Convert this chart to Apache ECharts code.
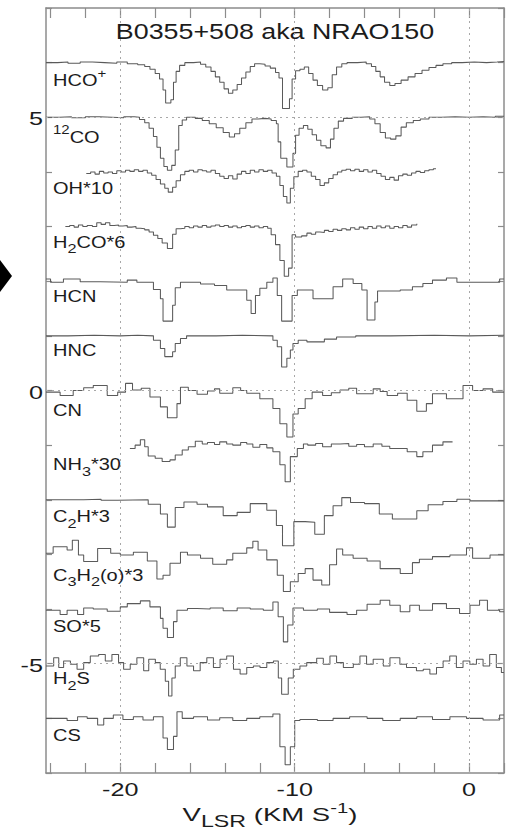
<!DOCTYPE html>
<html><head><meta charset="utf-8">
<style>html,body{margin:0;padding:0;background:#fff}#c{width:511px;height:833px}</style>
<script src="https://cdn.jsdelivr.net/npm/echarts@6/dist/echarts.min.js"></script>
</head><body><div id="c"></div>
<script>
// ---------------- data ----------------
const title = 'B0355+508 aka NRAO150';
const species = ['HCO+', '12CO', 'OH*10', 'H2CO*6', 'HCN', 'HNC', 'CN', 'NH3*30', 'C2H*3', 'C3H2(o)*3', 'SO*5', 'H2S', 'CS'];
const offsets = [6, 5, 4, 3, 2, 1, 0, -1, -2, -3, -4, -5, -6];
const xTickVals = [-24, -22, -20, -18, -16, -14, -12, -10, -8, -6, -4, -2, 0, 2];
const xLabelVals = [-20, -10, 0];
const yLabelVals = [5, 0, -5];
const gridXVals = [-20, -10, 0];
const gridYVals = [5, 0, -5];

// each pair: [velocity where the channel level starts, deviation from the spectrum baseline]
const HCOp = [[-24.26,0.00],[-23.6,0.01],[-23.0,-0.01],[-22.3,0.01],[-21.6,0.00],[-20.9,-0.01],[-20.2,0.01],[-19.6,-0.02],[-19.0,-0.04],[-18.6,-0.07],[-18.3,-0.12],[-18.0,-0.20],[-17.75,-0.30],[-17.55,-0.50],[-17.4,-0.74],[-17.1,-0.68],[-16.95,-0.36],[-16.8,-0.16],[-16.6,-0.05],[-16.3,0.00],[-15.8,0.01],[-15.4,-0.03],[-15.1,-0.08],[-14.8,-0.16],[-14.55,-0.26],[-14.3,-0.36],[-14.05,-0.48],[-13.8,-0.56],[-13.55,-0.50],[-13.3,-0.40],[-13.05,-0.28],[-12.8,-0.17],[-12.55,-0.07],[-12.3,-0.02],[-12.0,-0.03],[-11.7,-0.06],[-11.4,-0.10],[-11.1,-0.18],[-10.9,-0.28],[-10.7,-0.84],[-10.3,-0.66],[-10.15,-0.30],[-9.95,-0.15],[-9.7,-0.12],[-9.45,-0.08],[-9.2,-0.20],[-8.95,-0.32],[-8.7,-0.42],[-8.4,-0.50],[-8.1,-0.46],[-7.85,-0.22],[-7.6,-0.08],[-7.3,-0.02],[-7.0,0.00],[-6.4,0.01],[-5.9,-0.02],[-5.6,-0.07],[-5.35,-0.16],[-5.1,-0.26],[-4.85,-0.36],[-4.55,-0.42],[-4.25,-0.38],[-3.9,-0.32],[-3.5,-0.26],[-3.1,-0.20],[-2.7,-0.14],[-2.3,-0.09],[-1.9,-0.05],[-1.5,-0.02],[-1.0,0.00],[-0.4,0.01],[0.3,0.00],[1.0,0.01],[1.6,0.02],[2.0,0.02]];
const CO12p = [[-24.26,0.00],[-23.5,0.01],[-22.8,-0.01],[-22.0,0.01],[-21.2,0.00],[-20.5,-0.01],[-19.8,0.01],[-19.2,0.00],[-18.9,-0.04],[-18.6,-0.10],[-18.35,-0.20],[-18.1,-0.35],[-17.9,-0.55],[-17.7,-0.75],[-17.5,-0.90],[-17.3,-0.97],[-17.05,-0.88],[-16.85,-0.60],[-16.65,-0.15],[-16.45,-0.05],[-16.2,0.00],[-15.7,-0.02],[-15.3,-0.06],[-14.9,-0.12],[-14.5,-0.19],[-14.1,-0.28],[-13.75,-0.36],[-13.45,-0.30],[-13.15,-0.20],[-12.8,-0.10],[-12.45,-0.03],[-12.1,-0.02],[-11.7,-0.03],[-11.35,-0.06],[-11.05,-0.12],[-10.95,-0.45],[-10.8,-0.75],[-10.45,-0.91],[-10.1,-0.66],[-9.95,-0.33],[-9.75,-0.20],[-9.5,-0.15],[-9.25,-0.22],[-9.0,-0.32],[-8.75,-0.42],[-8.5,-0.52],[-8.2,-0.56],[-7.95,-0.40],[-7.75,-0.20],[-7.5,-0.07],[-7.2,-0.02],[-6.7,0.00],[-6.2,0.01],[-5.7,-0.03],[-5.4,-0.12],[-5.1,-0.28],[-4.8,-0.38],[-4.5,-0.40],[-4.2,-0.34],[-3.9,-0.18],[-3.6,-0.10],[-3.2,-0.06],[-2.8,-0.03],[-2.3,0.00],[-1.6,0.01],[-0.8,0.00],[0.0,0.01],[0.8,0.00],[1.5,0.02],[2.0,0.02]];
const OHp = [[-21.95,-0.03],[-21.7,0.00],[-21.45,-0.04],[-21.2,0.01],[-20.95,-0.02],[-20.7,0.00],[-20.45,-0.03],[-20.2,0.02],[-19.95,0.00],[-19.7,0.03],[-19.45,0.01],[-19.2,0.04],[-18.95,0.01],[-18.7,0.03],[-18.45,-0.02],[-18.2,-0.06],[-17.95,-0.14],[-17.7,-0.22],[-17.45,-0.30],[-17.25,-0.37],[-17.0,-0.28],[-16.8,-0.16],[-16.55,-0.05],[-16.3,0.01],[-16.05,0.03],[-15.8,0.00],[-15.55,0.04],[-15.3,0.02],[-15.05,0.00],[-14.8,0.03],[-14.55,-0.03],[-14.3,-0.08],[-14.05,-0.12],[-13.8,-0.07],[-13.55,-0.13],[-13.3,-0.04],[-13.05,0.01],[-12.8,-0.03],[-12.55,0.03],[-12.3,0.00],[-12.05,0.04],[-11.8,0.01],[-11.55,0.03],[-11.3,-0.02],[-11.05,-0.08],[-10.85,-0.25],[-10.65,-0.45],[-10.45,-0.57],[-10.25,-0.30],[-10.05,-0.09],[-9.8,0.01],[-9.55,0.03],[-9.3,0.00],[-9.05,-0.08],[-8.8,-0.14],[-8.55,-0.25],[-8.3,-0.20],[-8.05,-0.12],[-7.8,-0.05],[-7.55,0.00],[-7.3,0.03],[-7.05,0.05],[-6.8,0.02],[-6.55,0.05],[-6.3,0.01],[-6.05,0.04],[-5.8,0.00],[-5.55,0.03],[-5.3,-0.03],[-5.05,-0.08],[-4.8,-0.14],[-4.55,-0.10],[-4.3,-0.15],[-4.05,-0.07],[-3.8,-0.04],[-3.55,-0.06],[-3.3,-0.02],[-3.05,0.01],[-2.8,-0.01],[-2.55,0.02],[-2.3,0.04],[-2.05,0.06],[-1.9,0.06]];
const H2COp = [[-23.15,0.00],[-22.9,0.02],[-22.65,-0.01],[-22.4,0.03],[-22.15,0.00],[-21.9,0.02],[-21.6,0.00],[-21.35,0.07],[-21.1,0.04],[-20.85,0.07],[-20.6,0.02],[-20.35,0.03],[-20.1,0.01],[-19.85,0.02],[-19.6,-0.01],[-19.35,0.00],[-19.1,-0.03],[-18.85,-0.04],[-18.6,-0.06],[-18.35,-0.10],[-18.1,-0.16],[-17.85,-0.22],[-17.6,-0.30],[-17.3,-0.40],[-17.0,-0.14],[-16.8,-0.04],[-16.55,-0.03],[-16.3,0.00],[-16.05,-0.02],[-15.8,0.01],[-15.55,-0.01],[-15.3,0.02],[-15.05,-0.01],[-14.8,0.01],[-14.55,0.03],[-14.3,0.00],[-14.05,0.02],[-13.8,-0.01],[-13.55,0.01],[-13.3,-0.02],[-13.05,0.00],[-12.8,0.02],[-12.55,-0.01],[-12.3,0.01],[-12.05,-0.02],[-11.8,0.00],[-11.55,-0.03],[-11.35,-0.15],[-11.1,-0.33],[-10.85,-0.62],[-10.6,-0.91],[-10.35,-0.76],[-10.15,-0.15],[-9.95,-0.19],[-9.6,-0.17],[-9.3,-0.12],[-9.05,-0.14],[-8.8,-0.10],[-8.55,-0.11],[-8.3,-0.07],[-8.05,-0.09],[-7.8,-0.05],[-7.55,-0.07],[-7.3,-0.04],[-7.05,-0.06],[-6.8,-0.02],[-6.55,-0.05],[-6.3,-0.01],[-6.05,-0.04],[-5.8,0.00],[-5.55,-0.03],[-5.3,0.01],[-5.05,-0.02],[-4.8,0.01],[-4.55,-0.03],[-4.3,0.00],[-4.05,-0.02],[-3.8,0.02],[-3.55,-0.01],[-3.3,0.03],[-3.0,0.05]];
const HCNp = [[-24.26,0.04],[-24.0,-0.02],[-23.26,0.04],[-22.3,-0.01],[-21.15,-0.02],[-19.6,0.02],[-19.05,-0.02],[-18.1,-0.15],[-17.7,-0.32],[-17.55,-0.73],[-17.0,-0.44],[-16.85,-0.12],[-16.55,-0.02],[-15.4,-0.05],[-14.6,-0.08],[-13.9,-0.16],[-12.75,-0.35],[-12.5,-0.59],[-12.25,-0.26],[-12.0,-0.13],[-11.6,-0.02],[-11.25,0.06],[-11.0,-0.26],[-10.75,-0.73],[-10.15,-0.26],[-9.85,-0.16],[-8.95,-0.32],[-7.8,-0.10],[-7.25,0.04],[-6.65,-0.04],[-6.15,-0.16],[-5.85,-0.71],[-5.4,-0.38],[-5.25,-0.18],[-3.95,-0.16],[-3.25,-0.10],[-2.65,-0.04],[-2.1,0.02],[-1.3,0.06],[-0.7,-0.02],[1.75,0.04],[2.0,0.04]];
const HNCp = [[-24.26,0.00],[-23.0,0.01],[-21.5,0.00],[-20.0,0.01],[-19.0,0.00],[-18.1,-0.08],[-17.7,-0.23],[-17.45,-0.38],[-17.0,-0.29],[-16.85,-0.14],[-16.55,-0.05],[-16.2,0.00],[-14.5,0.01],[-13.0,0.00],[-11.25,-0.08],[-11.0,-0.20],[-10.75,-0.57],[-10.45,-0.41],[-10.25,-0.26],[-10.1,-0.14],[-9.8,-0.08],[-9.3,-0.11],[-8.3,-0.06],[-7.6,-0.02],[-6.5,0.00],[-4.5,0.01],[-2.0,0.00],[0.0,0.01],[2.0,0.01]];
const CNp = [[-24.26,-0.03],[-23.45,-0.09],[-22.7,0.00],[-22.1,0.05],[-21.55,0.09],[-20.75,-0.09],[-20.15,-0.03],[-19.7,0.13],[-19.3,0.01],[-18.8,0.04],[-18.3,-0.12],[-17.7,-0.30],[-17.3,-0.50],[-16.75,-0.24],[-16.55,0.06],[-16.1,0.00],[-15.6,-0.07],[-15.0,-0.01],[-14.6,0.03],[-14.3,-0.05],[-13.55,0.05],[-13.1,0.00],[-12.75,-0.05],[-12.0,-0.15],[-11.25,-0.33],[-10.85,-0.61],[-10.45,-0.85],[-10.1,-0.43],[-9.8,-0.33],[-9.4,-0.15],[-9.0,-0.03],[-8.4,-0.09],[-7.9,-0.04],[-7.4,0.01],[-6.9,0.04],[-6.45,-0.06],[-5.5,0.03],[-5.1,-0.02],[-4.7,-0.09],[-4.1,-0.05],[-3.55,-0.18],[-3.0,-0.38],[-2.45,-0.24],[-2.1,-0.06],[-1.3,-0.15],[-0.35,0.09],[0.2,0.00],[0.8,0.03],[1.35,-0.03],[2.0,-0.03]];
const NH3p = [[-19.45,-0.06],[-19.15,0.00],[-18.85,0.10],[-18.6,-0.03],[-18.4,-0.20],[-18.0,-0.24],[-17.6,-0.30],[-17.15,-0.27],[-16.85,-0.18],[-16.45,-0.09],[-16.1,-0.03],[-15.7,0.07],[-15.3,0.02],[-15.0,0.05],[-14.6,0.01],[-14.3,0.06],[-13.9,0.02],[-13.55,0.00],[-13.1,0.05],[-12.75,0.02],[-12.4,-0.04],[-12.0,0.01],[-11.6,-0.05],[-11.25,-0.12],[-10.85,-0.36],[-10.55,-0.67],[-10.25,-0.21],[-9.85,-0.06],[-9.5,0.02],[-9.25,0.00],[-8.8,0.03],[-8.4,-0.03],[-7.9,0.02],[-7.4,0.03],[-6.9,-0.02],[-6.45,0.01],[-6.0,-0.03],[-5.5,0.02],[-5.0,-0.02],[-4.55,-0.06],[-3.55,-0.12],[-3.0,-0.21],[-2.65,-0.12],[-2.1,0.00],[-1.5,0.06],[-0.95,0.06]];
const C2Hp = [[-24.26,0.00],[-22.1,0.01],[-21.1,-0.01],[-20.15,0.00],[-18.4,-0.08],[-17.7,-0.26],[-17.3,-0.50],[-16.85,-0.14],[-16.35,-0.04],[-15.6,-0.08],[-15.0,-0.13],[-14.1,-0.29],[-13.3,-0.23],[-12.55,-0.07],[-11.6,-0.19],[-11.05,-0.47],[-10.7,-0.84],[-10.05,-0.40],[-9.4,-0.41],[-8.85,-0.63],[-8.3,-0.29],[-7.8,-0.11],[-7.3,0.04],[-6.8,-0.05],[-6.0,-0.07],[-5.15,-0.26],[-4.4,-0.35],[-3.0,-0.20],[-2.35,-0.09],[-1.5,-0.03],[-0.7,0.01],[0.05,-0.02],[2.0,-0.02]];
const C3H2p = [[-24.26,0.02],[-23.85,0.14],[-23.05,0.08],[-22.75,0.26],[-22.4,-0.01],[-22.1,-0.13],[-21.3,0.11],[-20.55,0.02],[-20.0,-0.01],[-19.25,0.04],[-18.45,-0.12],[-17.9,-0.45],[-17.55,-0.38],[-17.15,-0.16],[-16.55,0.04],[-16.15,-0.01],[-15.4,-0.07],[-14.7,-0.18],[-13.9,-0.10],[-13.55,0.02],[-12.75,0.12],[-12.4,0.24],[-12.1,0.08],[-11.6,-0.10],[-11.0,-0.38],[-10.65,-0.68],[-10.25,-0.50],[-9.8,-0.35],[-9.4,-0.26],[-8.95,-0.47],[-8.45,-0.56],[-8.0,-0.19],[-7.6,0.10],[-7.25,-0.01],[-6.65,-0.07],[-5.85,-0.12],[-5.1,-0.26],[-3.95,-0.35],[-3.25,-0.15],[-2.85,-0.09],[-2.1,-0.04],[-1.1,-0.01],[-0.15,0.12],[0.2,-0.07],[1.2,-0.01],[2.0,-0.01]];
const SOp = [[-24.26,-0.02],[-23.45,-0.10],[-23.05,-0.02],[-22.45,-0.10],[-22.1,0.02],[-21.55,0.00],[-20.75,-0.04],[-20.0,0.04],[-19.6,0.10],[-18.85,0.15],[-18.3,0.04],[-17.7,-0.17],[-17.55,-0.35],[-17.3,-0.52],[-16.95,-0.23],[-16.75,-0.02],[-16.15,0.01],[-15.6,0.00],[-14.85,0.02],[-14.1,-0.03],[-13.3,0.02],[-12.55,0.00],[-11.8,-0.02],[-11.25,0.13],[-10.95,-0.14],[-10.65,-0.60],[-10.4,-0.29],[-10.1,0.02],[-9.5,-0.02],[-8.7,0.00],[-8.0,-0.06],[-7.0,-0.10],[-6.45,-0.02],[-5.85,0.09],[-5.1,0.16],[-4.55,0.07],[-3.95,-0.05],[-3.4,0.07],[-2.85,-0.02],[-2.1,0.10],[-1.3,0.01],[-0.55,-0.08],[0.05,0.07],[0.6,0.16],[1.05,-0.02],[1.75,-0.05],[2.0,-0.05]];
const H2Sp = [[-24.26,-0.04],[-23.82,0.11],[-23.53,-0.07],[-23.25,0.05],[-22.86,-0.01],[-22.48,-0.10],[-22.1,0.02],[-21.72,0.14],[-21.24,0.17],[-20.86,0.05],[-20.48,0.17],[-20.1,0.02],[-19.81,-0.10],[-19.43,-0.01],[-19.05,0.11],[-18.66,-0.13],[-18.37,0.08],[-17.99,0.02],[-17.71,-0.10],[-17.42,-0.32],[-17.23,-0.59],[-17.04,-0.26],[-16.85,-0.04],[-16.56,0.11],[-16.18,-0.04],[-15.8,-0.13],[-15.42,0.02],[-15.04,0.11],[-14.66,-0.07],[-14.28,0.08],[-13.9,0.14],[-13.51,-0.10],[-13.13,-0.19],[-12.75,-0.07],[-12.37,-0.04],[-11.99,-0.07],[-11.6,0.02],[-11.22,0.05],[-10.94,-0.26],[-10.75,-0.56],[-10.37,-0.26],[-10.08,-0.10],[-9.7,-0.04],[-9.31,0.02],[-8.74,0.10],[-8.36,-0.01],[-7.98,0.14],[-7.6,0.02],[-7.21,-0.07],[-6.64,-0.01],[-6.26,0.14],[-5.88,-0.01],[-5.5,0.08],[-4.92,-0.04],[-4.54,0.11],[-3.97,-0.01],[-3.59,-0.07],[-3.02,-0.13],[-2.63,-0.10],[-2.25,-0.19],[-1.87,-0.07],[-1.49,0.05],[-1.11,0.14],[-0.73,-0.07],[-0.35,0.05],[0.04,-0.01],[0.42,0.08],[0.8,-0.04],[1.18,0.17],[1.56,-0.07],[1.85,-0.16],[2.0,-0.16]];
const CSp = [[-24.26,0.00],[-23.05,-0.04],[-22.45,0.03],[-21.9,0.00],[-21.3,-0.12],[-20.95,0.00],[-20.4,0.06],[-19.85,-0.02],[-19.25,0.03],[-18.7,-0.03],[-18.1,0.03],[-17.55,-0.36],[-17.3,-0.57],[-16.95,-0.33],[-16.75,0.12],[-16.45,0.00],[-15.8,0.03],[-15.0,-0.03],[-14.3,0.01],[-13.55,-0.04],[-12.75,0.00],[-12.0,0.03],[-11.25,0.08],[-10.85,-0.52],[-10.55,-0.85],[-10.25,-0.52],[-10.0,-0.04],[-9.7,-0.02],[-8.7,-0.04],[-7.8,0.00],[-6.85,0.03],[-5.85,0.00],[-4.95,-0.04],[-3.95,0.00],[-3.0,0.03],[-2.1,-0.02],[-1.1,0.03],[-0.15,0.00],[0.8,-0.03],[1.75,0.06],[2.0,0.06]];

const spectra = [HCOp, CO12p, OHp, H2COp, HCNp, HNCp, CNp, NH3p, C2Hp, C3H2p, SOp, H2Sp, CSp];

// ---------------- presentation ----------------
const labelRich = ['{n|HCO}{sup|+}', '{sup|12}{n|CO}', '{n|OH*10}', '{n|H}{sub|2}{n|CO*6}', '{n|HCN}', '{n|HNC}', '{n|CN}',
  '{n|NH}{sub|3}{n|*30}', '{n|C}{sub|2}{n|H*3}', '{n|C}{sub|3}{n|H}{sub|2}{n|(o)*3}', '{n|SO*5}', '{n|H}{sub|2}{n|S}', '{n|CS}'];
const labelDyPx = [18, 20, 17, 16, 15, 15, 20, 20, 17, 21, 18, 15, 17];
const FONT = '"Liberation Sans", Arial, Helvetica, sans-serif';
const INK = '#1c1c1c';
const FRAME = '#8c8c8c';
const xMin = -24.26, xMax = 2, yMin = -7, yMax = 7;

const axisLineStyle = { color: FRAME, width: 1.5 };
const tickStyle = { color: FRAME, width: 1.2 };

const series = spectra.map((pairs, i) => ({
  name: species[i],
  type: 'line',
  step: 'end',
  showSymbol: false,
  symbol: 'none',
  silent: true,
  animation: false,
  xAxisIndex: 0, yAxisIndex: 0,
  lineStyle: { color: '#5a5a5a', width: 1.05 },
  data: pairs.map(p => [p[0], offsets[i] + p[1]]),
  z: 3
}));
series[0].markLine = {
  silent: true, animation: false, symbol: ['none', 'none'],
  label: { show: false },
  lineStyle: { type: [2, 4], color: '#a8a8a8', width: 1 },
  data: gridXVals.map(v => ({ xAxis: v })).concat(gridYVals.map(v => ({ yAxis: v })))
};

const xAxisBase = (pos) => ({
  type: 'value', min: xMin, max: xMax, position: pos, gridIndex: 0,
  axisLine: { show: true, onZero: false, lineStyle: axisLineStyle },
  axisTick: { show: true, inside: true, length: 10, customValues: xTickVals, lineStyle: tickStyle },
  axisLabel: { show: false }, splitLine: { show: false }
});
const yAxisBase = (pos) => ({
  type: 'value', min: yMin, max: yMax, interval: 1, position: pos, gridIndex: 0,
  axisLine: { show: true, onZero: false, lineStyle: axisLineStyle },
  axisTick: { show: true, inside: true, length: 6, lineStyle: tickStyle },
  axisLabel: { show: false }, splitLine: { show: false }
});

const chart = echarts.init(document.getElementById('c'), null, { renderer: 'svg' });
chart.setOption({
  animation: false,
  backgroundColor: '#fff',
  grid: { left: 46, right: 7, top: 8, bottom: 60, containLabel: false },
  xAxis: [xAxisBase('bottom'), xAxisBase('top')],
  yAxis: [yAxisBase('left'), yAxisBase('right')],
  series: series
});

const P = (x, y) => chart.convertToPixel({ gridIndex: 0 }, [x, y]);
const graphics = [];
const leftPx = P(xMin, 0)[0], rightPx = P(xMax, 0)[0], bottomPx = P(0, yMin)[1];

// title
graphics.push({ type: 'text', x: (leftPx + rightPx) / 2, y: 31, scaleX: 1.22, silent: true,
  style: { text: title, fill: INK, fontFamily: FONT, fontSize: 22, align: 'center', verticalAlign: 'middle' } });
// x tick labels
xLabelVals.forEach(v => {
  graphics.push({ type: 'text', x: P(v, yMin)[0], y: bottomPx + 17, scaleX: 1.4, silent: true,
    style: { text: String(v), fill: INK, fontFamily: FONT, fontSize: 18, align: 'center', verticalAlign: 'middle' } });
});
// y tick labels
yLabelVals.forEach(v => {
  graphics.push({ type: 'text', x: leftPx - 3, y: P(xMin, v)[1] + 2, scaleX: 1.4, silent: true,
    style: { text: String(v), fill: INK, fontFamily: FONT, fontSize: 18, align: 'right', verticalAlign: 'middle' } });
});
// spectrum labels
labelRich.forEach((t, i) => {
  const yy = P(xMin, offsets[i])[1] + labelDyPx[i];
  graphics.push({ type: 'text', x: leftPx + 7, y: yy, scaleX: 1.25, silent: true,
    style: { text: t, fill: INK, fontFamily: FONT, align: 'left', verticalAlign: 'middle',
      rich: {
        n: { fontFamily: FONT, fontSize: 16, lineHeight: 26, verticalAlign: 'middle', fill: INK },
        sub: { fontFamily: FONT, fontSize: 13, lineHeight: 12, verticalAlign: 'bottom', fill: INK },
        sup: { fontFamily: FONT, fontSize: 12, lineHeight: 10, verticalAlign: 'top', fill: INK }
      } } });
});
// x axis name
graphics.push({ type: 'text', x: 270, y: 815, scaleX: 1.45, silent: true,
  style: { text: '{n|V}{sub|LSR}{n| (KM S}{sup|-1}{n|)}', fill: INK, fontFamily: FONT, align: 'center', verticalAlign: 'middle',
    rich: {
      n: { fontFamily: FONT, fontSize: 19, lineHeight: 28, verticalAlign: 'middle', fill: INK },
      sub: { fontFamily: FONT, fontSize: 16, lineHeight: 16, verticalAlign: 'bottom', fill: INK },
      sup: { fontFamily: FONT, fontSize: 14, lineHeight: 12, verticalAlign: 'top', fill: INK }
    } } });
// black pointer at the left edge
graphics.push({ type: 'polygon', silent: true, shape: { points: [[0, 260], [12, 276], [0, 292]] }, style: { fill: '#000' } });

chart.setOption({ graphic: graphics });
</script>
</body></html>
